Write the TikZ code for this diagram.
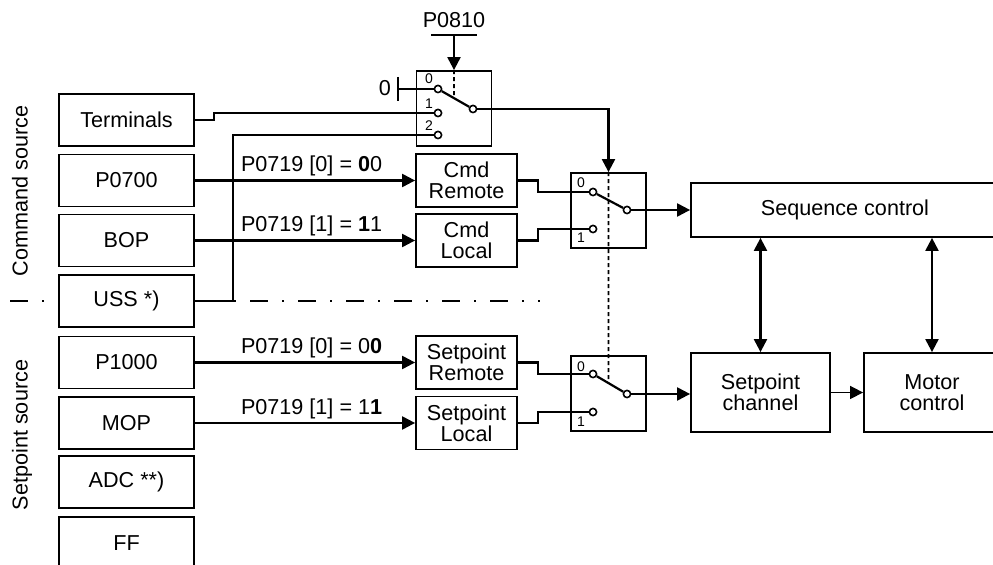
\documentclass[tikz,border=0pt]{standalone}
\usepackage{fontspec}
\setmainfont{Liberation Sans}
\usetikzlibrary{arrows.meta,calc}

\begin{document}
\begin{tikzpicture}[x=0.5pt,y=-0.5pt,
    every node/.style={font=\fontsize{10.8}{10.6}\selectfont},
    src/.style={draw,line width=0.9pt,fill=white,minimum width=67.5pt,minimum height=26pt,inner sep=0pt},
    blk/.style={draw,line width=0.9pt,fill=white,align=center,inner sep=0pt,minimum width=50.5pt,minimum height=26.5pt},
    swbox/.style={draw,line width=0.9pt,minimum width=37.5pt,minimum height=37.5pt,inner sep=0pt},
    contact/.style={circle,draw,line width=0.8pt,fill=white,minimum size=3.6pt,inner sep=0pt},
    num/.style={font=\fontsize{7}{7}\selectfont,inner sep=0pt},
    wire/.style={line width=1.1pt},
    sig/.style={line width=1.1pt,-{Triangle[length=6.5pt,width=6.5pt]}},
    dbl/.style={line width=1.1pt,{Triangle[length=6.5pt,width=6.5pt]}-{Triangle[length=6.5pt,width=6.5pt]}},
    lever/.style={line width=0.8pt,dash pattern=on 2pt off 1.5pt},
    lbl/.style={inner sep=0pt}]
    \useasboundingbox (0,0) rectangle (993,565);
    \clip (0,0) rectangle (993,565);

    % Separator between command and setpoint sources
    \draw[line width=0.9pt,dash pattern=on 9pt off 7pt on 1pt off 7pt] (10,301) -- (540,301);
    \node[rotate=90] (cmdsrc) at (20,191) {Command source};
    \node[rotate=90] (spsrc) at (22,435) {Setpoint source};

    % Sources
    \node[src] (term) at (126.5,120) {Terminals};
    \node[src] (p0700) at (126.5,180.5) {P0700};
    \node[src] (bop) at (126.5,240.5) {BOP};
    \node[src] (uss) at (126.5,301) {USS *)};
    \node[src] (p1000) at (126.5,362.5) {P1000};
    \node[src] (mop) at (126.5,423) {MOP};
    \node[src] (adc) at (126.5,482) {ADC **)};
    \node[src] (ff) at (126.5,543) {FF};

    % Local / remote blocks
    \node[blk] (cmdrem) at (466.5,180.5) {Cmd\\Remote};
    \node[blk] (cmdloc) at (466.5,240.5) {Cmd\\Local};
    \node[blk] (sprem) at (466.5,362.5) {Setpoint\\Remote};
    \node[blk] (sploc) at (466.5,423) {Setpoint\\Local};

    % Drive blocks
    \node[blk,minimum width=154pt,minimum height=27pt] (seq) at (845,210) {Sequence control};
    \node[blk,minimum width=69.5pt,minimum height=39.5pt] (chan) at (760.5,392.5) {Setpoint\\channel};
    \node[blk,minimum width=68pt,minimum height=39.5pt] (motor) at (932,392.5) {Motor\\control};

    % Switch P0810
    \node[swbox] (sw1) at (454,108.5) {};
    \node[contact] (c10) at (438,89) {};
    \node[contact] (c11) at (438,113) {};
    \node[contact] (c12) at (438,135) {};
    \node[contact] (p1) at (473,109) {};
    \node[num] (n10) at (429,79) {0};
    \node[num] (n11) at (429,104) {1};
    \node[num] (n12) at (429,126) {2};
    \node (p0810) at (454,20) {P0810};
    \coordinate (pbar) at (454,35);
    \draw[wire] ($(pbar)+(-23,0)$) -- ($(pbar)+(23,0)$);
    \draw[sig] (pbar) -- (sw1.north);
    \node (zero) at (385,88) {0};
    \coordinate (zbar) at (398,89);
    \draw[wire] ($(zbar)+(0,-12)$) -- ($(zbar)+(0,12)$);
    \draw[wire] (zbar) -- (c10);
    \draw[wire] (c10) -- (p1);

    % Switch command
    \node[swbox] (sw2) at (608.5,210.5) {};
    \node[contact] (c20) at (593,192) {};
    \node[contact] (c21) at (593,229) {};
    \node[contact] (p2) at (627,210) {};
    \node[num] (n20) at (581,183) {0};
    \node[num] (n21) at (581,238) {1};
    \draw[wire] (c20) -- (p2);

    % Switch setpoint
    \node[swbox] (sw3) at (608.5,393.5) {};
    \node[contact] (c30) at (593,374) {};
    \node[contact] (c31) at (593,412) {};
    \node[contact] (p3) at (627,394) {};
    \node[num] (n30) at (581,367) {0};
    \node[num] (n31) at (581,422) {1};
    \draw[wire] (c30) -- (p3);

    % Mechanical coupling
    \draw[lever] (sw1.north) -- ($(c10)!0.457!(p1)$);
    \draw[lever] (sw2.north) -- ($(c30)!0.456!(p3)$);

    % Connections
    \draw[wire] (term.east) -- ++(19,0) |- (c11);
    \draw[wire] (uss.east) -- ++(38,0) |- (c12);
    \draw[sig] (p1) -| (sw2.north);
    \draw[sig] (p0700.east) -- node[lbl,above=1.5pt,pos=0.53] {P0719 [0] = \textbf{0}0} (cmdrem.west);
    \draw[sig] (bop.east) -- node[lbl,above=1.5pt,pos=0.53] {P0719 [1] = \textbf{1}1} (cmdloc.west);
    \draw[sig] (p1000.east) -- node[lbl,above=1.5pt,pos=0.53] {P0719 [0] = 0\textbf{0}} (sprem.west);
    \draw[sig] (mop.east) -- node[lbl,above=1.5pt,pos=0.53] {P0719 [1] = 1\textbf{1}} (sploc.west);
    \draw[wire] (cmdrem.east) -- ++(20,0) |- (c20);
    \draw[wire] (cmdloc.east) -- ++(20,0) |- (c21);
    \draw[wire] (sprem.east) -- ++(20,0) |- (c30);
    \draw[wire] (sploc.east) -- ++(20,0) |- (c31);
    \draw[sig] (p2) -- (p2 -| seq.west);
    \draw[sig] (p3) -- (p3 -| chan.west);
    \draw[sig,line width=0.8pt] (chan.east) -- (motor.west);
    \draw[dbl] (chan.north) -- (chan.north |- seq.south);
    \draw[dbl] (motor.north) -- (motor.north |- seq.south);
\end{tikzpicture}
\end{document}
